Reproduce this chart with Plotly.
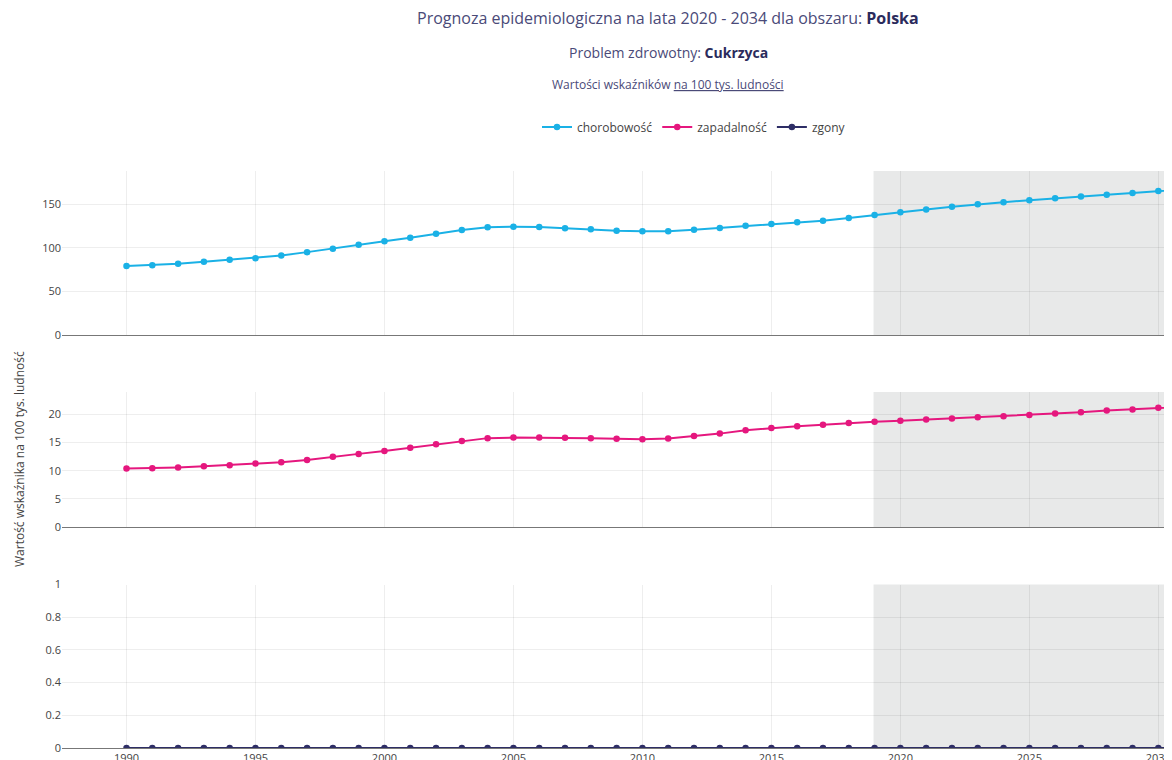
import plotly.graph_objects as go
from plotly.subplots import make_subplots

years = list(range(1990, 2035))

chorobowosc = [79.0, 80.1, 81.6, 83.9, 86.2, 88.1, 91.2, 95.0, 98.9, 103.5,
               107.4, 111.5, 116.1, 120.4, 123.5, 124.2, 123.8, 122.3, 121.2, 119.6,
               118.9, 118.9, 120.7, 122.7, 125.3, 127.3, 129.3, 131.1, 134.0, 137.5,
               140.6, 143.8, 146.9, 150.0, 152.3, 154.6, 156.9, 158.8, 160.7, 162.7,
               165.0, 167.2, 169.3, 171.3, 173.3]

zapadalnosc = [10.4, 10.45, 10.6, 10.8, 11.0, 11.3, 11.5, 11.9, 12.5, 13.0,
               13.5, 14.1, 14.7, 15.3, 15.8, 15.9, 15.9, 15.86, 15.8, 15.7,
               15.6, 15.75, 16.2, 16.6, 17.2, 17.6, 17.9, 18.2, 18.5, 18.7,
               18.9, 19.1, 19.3, 19.5, 19.7, 19.9, 20.2, 20.4, 20.7, 20.9,
               21.2, 21.4, 21.6, 21.8, 22.0]

zgony = [0] * len(years)

series_names = ["chorobowość", "zapadalność", "zgony"]
series_colors = ["#1ab1e6", "#e5177e", "#2e2e66"]
forecast_start = 2019

OFF = 7  # page offset (body margin)
W, H = 1333, 793
L, R, T, B = 61 - OFF, 15, 170 - OFF, 53

fig = make_subplots(rows=3, cols=1, shared_xaxes=True, vertical_spacing=0.05)

for i, (name, vals, col) in enumerate(zip(series_names, [chorobowosc, zapadalnosc, zgony], series_colors)):
    fig.add_trace(go.Scatter(x=years, y=vals, name=name, mode="lines+markers",
                             line=dict(color=col, width=2),
                             marker=dict(color=col, size=6.5)),
                  row=i + 1, col=1)

plot_h = H - T - B
plot_w = W - L - R

def py(ypix):
    # reference page pixel -> paper fraction
    return (747 - ypix) / plot_h

def px(xpix):
    return (xpix - (L + OFF)) / plot_w

def dom(top_px, bot_px):
    return [py(bot_px), py(top_px)]

fig.update_layout(
    yaxis=dict(domain=dom(170, 334), range=[0, 188]),
    yaxis2=dict(domain=dom(391, 526), range=[0, 24]),
    yaxis3=dict(domain=dom(583.5, 747), range=[0, 1]),
)

grid = "rgba(0,0,0,0.065)"
fig.update_xaxes(range=[1987.5, 2036.5], showgrid=True, gridcolor=grid, dtick=5,
                 zeroline=False, showline=True, linecolor="#777", linewidth=1,
                 tickfont=dict(size=11, color="#444"), ticks="")
fig.update_yaxes(showgrid=True, gridcolor=grid, zeroline=False,
                 tickfont=dict(size=11, color="#444"), ticks="")
fig.update_xaxes(showticklabels=False, row=1, col=1)
fig.update_xaxes(showticklabels=False, row=2, col=1)
fig.update_xaxes(showticklabels=True, row=3, col=1)

for yr in ["y", "y2", "y3"]:
    fig.add_shape(type="rect", xref="x", yref=f"{yr} domain",
                  x0=forecast_start - 0.04, x1=2036.5, y0=0, y1=1,
                  fillcolor="#e8e9e9", line=dict(width=0), layer="below")

xc = px(667)
title_col = "#4a4a78"
bold_col = "#2b2b5c"
fig.add_annotation(xref="paper", yref="paper", x=xc, y=py(17), showarrow=False,
                   xanchor="center", yanchor="middle",
                   text=f"Prognoza epidemiologiczna na lata 2020 - 2034 dla obszaru: <b style='color:{bold_col}'>Polska</b>",
                   font=dict(size=16, color=title_col))
fig.add_annotation(xref="paper", yref="paper", x=xc, y=py(52), showarrow=False,
                   xanchor="center", yanchor="middle",
                   text=f"Problem zdrowotny: <b style='color:{bold_col}'>Cukrzyca</b>",
                   font=dict(size=14, color=title_col))
fig.add_annotation(xref="paper", yref="paper", x=xc, y=py(84), showarrow=False,
                   xanchor="center", yanchor="middle",
                   text="Wartości wskaźników <u>na 100 tys. ludności</u>",
                   font=dict(size=12, color=title_col))
fig.add_annotation(xref="paper", yref="paper", x=px(18), y=py(458),
                   showarrow=False, xanchor="center", yanchor="middle", textangle=-90,
                   text="Wartość wskaźnika na 100 tys. ludność",
                   font=dict(size=12, color="#444"))

fig.update_layout(
    width=W, height=H,
    margin=dict(l=L, r=R, t=T, b=B),
    paper_bgcolor="white", plot_bgcolor="white",
    font=dict(family="Open Sans, sans-serif", color="#444"),
    showlegend=True,
    legend=dict(orientation="h", x=0.5, xanchor="center", y=py(126), yanchor="middle",
                font=dict(size=12, color="#444")),
)

fig.write_html("out.html")
